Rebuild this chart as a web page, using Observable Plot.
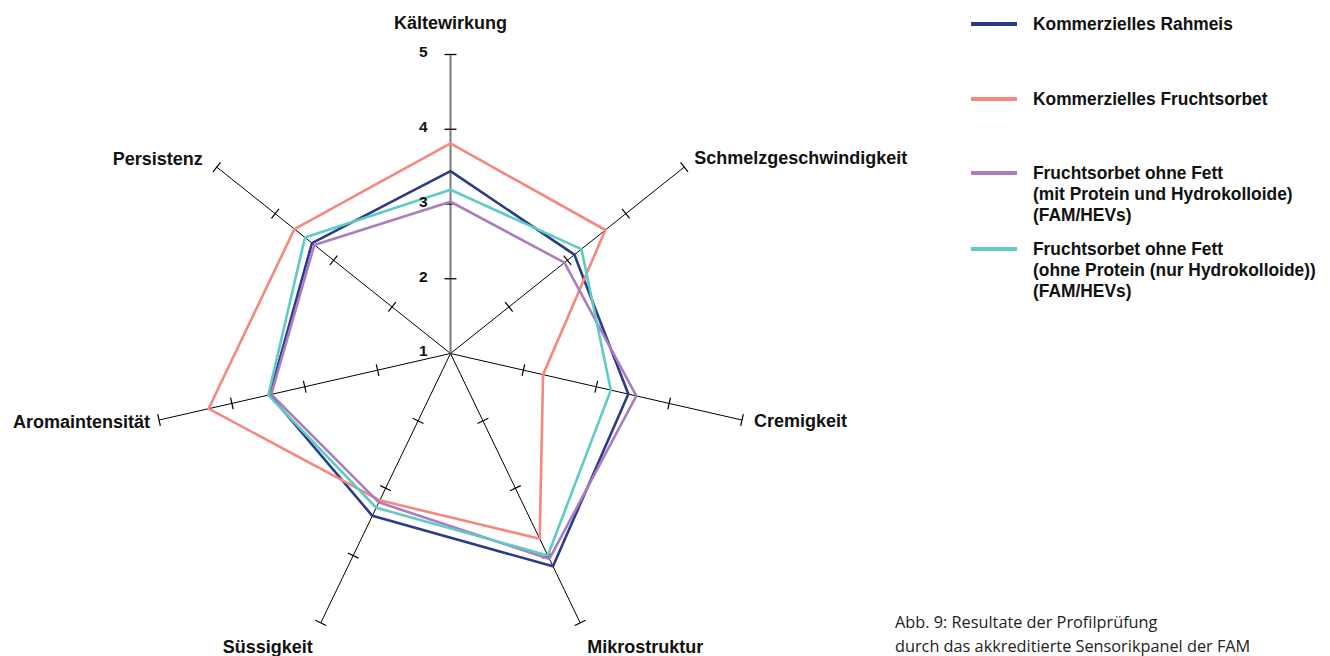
<!DOCTYPE html>
<html>
<head>
<meta charset="utf-8">
<script src="https://cdn.jsdelivr.net/npm/d3@7"></script>
<script src="https://cdn.jsdelivr.net/npm/@observablehq/plot@0.6"></script>
<style>
  html, body { margin: 0; padding: 0; background: #fff; }
  #wrap { position: relative; width: 1330px; height: 656px; overflow: hidden; font-family: "Liberation Sans", Arial, sans-serif; }
  #chart { position: absolute; left: 0; top: 0; }
  #legend { position: absolute; left: 0; top: 0; width: 1330px; height: 656px; pointer-events: none; }
  .lg { position: absolute; left: 971px; display: flex; align-items: flex-start; }
  .lg .sw { width: 46px; height: 4px; margin-top: 8.5px; flex: none; }
  .lg .tx { margin-left: 16px; font-weight: bold; font-size: 18px; line-height: 21px; color: #111; white-space: nowrap; transform: scaleX(0.965); transform-origin: left; }
  #caption { position: absolute; left: 895px; top: 610px; font-family: "Open Sans", "Noto Sans", sans-serif; font-size: 16.3px; line-height: 24px; color: #222; white-space: nowrap; }
</style>
</head>
<body>
<div id="wrap">
  <div id="chart"></div>
  <div id="legend"></div>
  <div id="caption">Abb. 9: Resultate der Profilprüfung<br>durch das akkreditierte Sensorikpanel der FAM</div>
</div>
<script>
// ---- data ----
const axes = ["Kältewirkung", "Schmelzgeschwindigkeit", "Cremigkeit", "Mikrostruktur", "Süssigkeit", "Aromaintensität", "Persistenz"];
const seriesNames = [
  "Kommerzielles Rahmeis",
  "Kommerzielles Fruchtsorbet",
  "Fruchtsorbet ohne Fett\n(mit Protein und Hydrokolloide)\n(FAM/HEVs)",
  "Fruchtsorbet ohne Fett\n(ohne Protein (nur Hydrokolloide))\n(FAM/HEVs)"
];
const rahmeis      = [3.44, 3.12, 3.44, 4.16, 3.41, 3.48, 3.37];
const fruchtsorbet = [3.81, 3.65, 2.27, 3.75, 3.18, 4.32, 3.67];
const mitProtein   = [3.03, 2.95, 3.55, 4.05, 3.21, 3.46, 3.33];
const ohneProtein  = [3.19, 3.24, 3.20, 4.00, 3.29, 3.50, 3.49];
const tickValues = [1, 2, 3, 4, 5];
const colors = ["#2b3a8b", "#f5877f", "#aa7cc0", "#5ecbc4"];

// ---- layout / style ----
const W = 1330, H = 656;
const cx = 450, cy = 353, unit = 74.75;   // pixel center, px per scale unit
const vmin = 1, vmax = 5;
const labelOffsets = [
  {dx: 0, dy: -31, anchor: "middle"},
  {dx: 10, dy: -9, anchor: "start"},
  {dx: 12, dy: 1, anchor: "start"},
  {dx: 7, dy: 24, anchor: "start"},
  {dx: -8, dy: 24, anchor: "end"},
  {dx: -9, dy: 2, anchor: "end"},
  {dx: -14, dy: -8, anchor: "end"}
];

const n = axes.length;
const angle = i => i * 2 * Math.PI / n;
const pt = (i, v) => ({x: (v - vmin) * Math.sin(angle(i)), y: (v - vmin) * Math.cos(angle(i))});

const allSeries = [rahmeis, fruchtsorbet, mitProtein, ohneProtein];
const lineData = [];
allSeries.forEach((vals, s) => {
  for (let k = 0; k <= n; k++) {
    const i = k % n;
    lineData.push({series: seriesNames[s], ...pt(i, vals[i])});
  }
});

const axisData = axes.map((name, i) => { const p = pt(i, vmax); return {name, i, x1: 0, y1: 0, x2: p.x, y2: p.y}; });

const tickHalf = 6 / unit;
const tickData = [];
axes.forEach((name, i) => {
  tickValues.filter(v => v > vmin).forEach(v => {
    const p = pt(i, v), a = angle(i);
    const px = Math.cos(a) * tickHalf, py = -Math.sin(a) * tickHalf;
    tickData.push({i, x1: p.x - px, y1: p.y - py, x2: p.x + px, y2: p.y + py});
  });
});

const tickLabelData = tickValues.map(v => ({v, ...pt(0, v)}));
const labelData = axes.map((name, i) => ({name, ...pt(i, vmax), ...labelOffsets[i]}));

const xDomain = [-cx / unit, (W - cx) / unit];
const yDomain = [-(H - cy) / unit, cy / unit];

const chart = Plot.plot({
  width: W, height: H,
  margin: 0,
  x: {domain: xDomain, range: [0, W], axis: null},
  y: {domain: yDomain, range: [H, 0], axis: null},
  style: {fontFamily: "'Liberation Sans', Arial, sans-serif", background: "transparent"},
  marks: [
    Plot.link(axisData.filter(d => d.i !== 0), {x1: "x1", y1: "y1", x2: "x2", y2: "y2", stroke: "#000", strokeWidth: 1}),
    Plot.link(tickData.filter(d => d.i !== 0), {x1: "x1", y1: "y1", x2: "x2", y2: "y2", stroke: "#000", strokeWidth: 1.2}),
    Plot.link(axisData.filter(d => d.i === 0), {x1: "x1", y1: "y1", x2: "x2", y2: "y2", stroke: "#7a7a7a", strokeWidth: 2}),
    Plot.link(tickData.filter(d => d.i === 0), {x1: "x1", y1: "y1", x2: "x2", y2: "y2", stroke: "#000", strokeWidth: 1.3}),
    Plot.line(lineData, {x: "x", y: "y", z: "series", stroke: d => colors[seriesNames.indexOf(d.series)], strokeWidth: 2.6, strokeLinejoin: "miter", curve: "linear"}),
    Plot.text(tickLabelData, {x: "x", y: "y", text: d => String(d.v), dx: -23, dy: -2, textAnchor: "end", fontWeight: "bold", fontSize: 15.5, fill: "#111"}),
    ...labelData.map(d => Plot.text([d], {x: "x", y: "y", text: "name", dx: d.dx, dy: d.dy, textAnchor: d.anchor, fontWeight: "bold", fontSize: 18, fill: "#111"}))
  ]
});
document.getElementById("chart").appendChild(chart);

// legend (HTML)
const legendTops = [13.5, 88.5, 162.5, 238.5];
const legend = document.getElementById("legend");
seriesNames.forEach((name, s) => {
  const row = document.createElement("div");
  row.className = "lg";
  row.style.top = legendTops[s] + "px";
  const sw = document.createElement("div");
  sw.className = "sw";
  sw.style.background = colors[s];
  const tx = document.createElement("div");
  tx.className = "tx";
  tx.innerHTML = name.split("\n").join("<br>");
  row.appendChild(sw); row.appendChild(tx);
  legend.appendChild(row);
});
</script>
</body>
</html>
